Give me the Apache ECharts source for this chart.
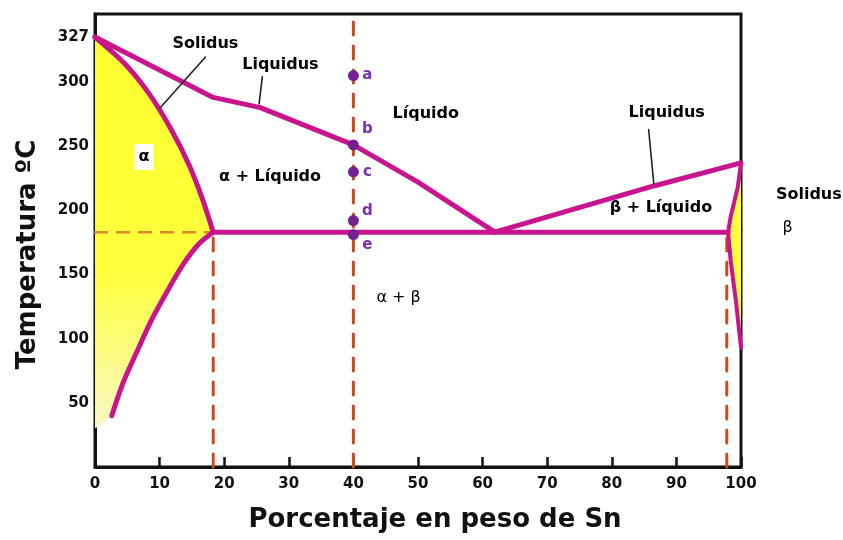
<!DOCTYPE html>
<html>
<head>
<meta charset="utf-8">
<title>Diagrama Pb-Sn</title>
<script src="https://cdn.jsdelivr.net/npm/echarts@6.0.0/dist/echarts.min.js"></script>
<style>
  html, body { margin: 0; padding: 0; background: #fff; }
  #chart { width: 843px; height: 540px; }
</style>
</head>
<body>
<div id="chart"></div>
<script>
var xTicks = [0, 10, 20, 30, 40, 50, 60, 70, 80, 90, 100];
var yTicks = [50, 100, 150, 200, 250, 300];
var meltLabel = '327';     // etiqueta del punto de fusión del Pb
var meltPlotY = 335;       // donde está dibujado en la escala del eje
var yTop = 353;

var liquidusLeft = [[0, 335], [18.3, 288], [25.6, 280], [40, 251], [50, 222], [61.9, 183]];
var liquidusRight = [[61.9, 183], [86.5, 219], [100, 237]];
var solidusAlpha = [[0, 335], [4.65, 314], [8.5, 290], [11.8, 263], [14.6, 235], [16.7, 208], [18.3, 183]];
var solvusAlpha = [[18.3, 183], [16.1, 174], [13.8, 159], [11.3, 138], [8.8, 115], [6.5, 90], [4.3, 65], [2.6, 40]];
var eutectic = [[18.3, 183], [98, 183]];
var solidusBeta = [[100, 237], [99.5, 218], [98.4, 195], [98, 183]];
var solvusBeta = [[98, 183], [98.4, 161], [99.2, 130], [100, 93]];

var guideVertical = [
    [[40, 0], [40, yTop]],
    [[18.3, 0], [18.3, 183]],
    [[97.8, 0], [97.8, 183]]
];
var guideEutectic = [[0, 183], [18.3, 183]];

var pointNames = ['a', 'b', 'c', 'd', 'e'];
var pointX = 40;
var pointT = [305, 251, 230, 192, 181];

// textos de regiones (texto, x, T, negrita)
var regionText = [
    ['Solidus', 17.1, 330, true],
    ['Liquidus', 28.7, 313, true],
    ['Líquido', 51.2, 275, true],
    ['α', 7.6, 241.6, true],
    ['α + Líquido', 27.1, 226, true],
    ['α + β', 47, 131.7, false],
    ['Liquidus', 88.5, 276, true],
    ['β + Líquido', 87.6, 202, true],
    ['Solidus', 110.5, 212, true],
    ['β', 107.2, 186.5, false]
];
var leaders = [
    [[17.1, 319.5], [10.1, 280]],
    [[25.9, 304], [25.4, 283]],
    [[85.7, 263], [86.5, 221]],
    [[100.6, 206.5], [104.3, 213.6]],
    [[100.3, 184.7], [106, 187]]
];

// --- estilo ---
var magenta = '#c8158f';
var dashRed = '#cf4a1a';
var fontFam = 'DejaVu Sans';

// offsets de las letras a..e respecto a su punto
var pointLabelOffset = { a: [14, 0], b: [14, -16], c: [14, 0], d: [14, -9], e: [14, 10] };

var chart = echarts.init(document.getElementById('chart'));

function polySeries(poly, fill) {
    return {
        type: 'custom',
        silent: true,
        z: 1,
        data: [[0, 0]],
        renderItem: function (params, api) {
            return {
                type: 'polygon',
                shape: { points: poly.map(function (p) { return api.coord(p); }) },
                style: { fill: fill, stroke: null }
            };
        }
    };
}

function lineSeries(data, color, width, type, z) {
    return {
        type: 'line',
        data: data,
        symbol: 'none',
        clip: false,
        silent: true,
        z: z,
        lineStyle: { color: color, width: width, type: type, cap: 'round', join: 'round' }
    };
}

var series = [];

// relleno amarillo de la fase alfa
var alphaPoly = solidusAlpha.concat(solvusAlpha.slice(1)).concat([[0, 30]]);
series.push(polySeries(alphaPoly, new echarts.graphic.LinearGradient(0, 0, 0, 1, [
    { offset: 0, color: '#ffff30' },
    { offset: 0.6, color: '#ffff3c' },
    { offset: 1, color: '#f8f8c4' }
])));
// fase beta
series.push(polySeries(solidusBeta.concat(solvusBeta.slice(1)), '#ffff40'));

// líneas discontinuas
guideVertical.forEach(function (seg) {
    series.push(lineSeries(seg, dashRed, 3, [13, 11], 2));
});
series.push(lineSeries(guideEutectic, '#e0862c', 2.5, [12, 10], 2));

// curvas del diagrama
series.push(lineSeries(liquidusLeft, magenta, 5, 'solid', 3));
series.push(lineSeries(liquidusRight, magenta, 5, 'solid', 3));
var sa = lineSeries(solidusAlpha, magenta, 5, 'solid', 3);
sa.smooth = 0.3;
series.push(sa);
var sv = lineSeries(solvusAlpha, magenta, 5, 'solid', 3);
sv.smooth = 0.3;
series.push(sv);
series.push(lineSeries(eutectic, magenta, 5, 'solid', 3));
series.push(lineSeries(solidusBeta, magenta, 4, 'solid', 3));
series.push(lineSeries(solvusBeta, magenta, 4, 'solid', 3));

// líneas guía de los textos
leaders.forEach(function (seg) {
    series.push(lineSeries(seg, '#222', 1.6, 'solid', 4));
});

// puntos a..e
series.push({
    type: 'scatter',
    z: 5,
    symbolSize: 11,
    itemStyle: { color: '#74208e', opacity: 1 },
    data: pointNames.map(function (n, i) {
        return {
            value: [pointX, pointT[i]],
            label: {
                show: true,
                formatter: n,
                position: 'inside',
                offset: pointLabelOffset[n],
                color: '#7a2fae',
                fontFamily: fontFam,
                fontWeight: 'bold',
                fontSize: 15
            }
        };
    })
});

// textos de las regiones
series.push({
    type: 'custom',
    z: 6,
    silent: true,
    clip: false,
    data: regionText.map(function (t) { return [t[1], t[2]]; }),
    renderItem: function (params, api) {
        var t = regionText[params.dataIndex];
        var p = api.coord([t[1], t[2]]);
        var style = {
            text: t[0],
            x: p[0],
            y: p[1],
            align: 'center',
            verticalAlign: 'middle',
            fill: '#000',
            font: (t[3] ? 'bold 16px ' : '16px ') + fontFam
        };
        if (t[0] === 'α') {
            style.backgroundColor = '#fff';
            style.padding = [5, 4, 5, 4];
        }
        return { type: 'text', style: style };
    }
});

var option = {
    animation: false,
    backgroundColor: '#fff',
    grid: {
        left: 95, right: 102, top: 14, bottom: 73,
        show: true,
        borderColor: '#111',
        borderWidth: 3,
        outerBoundsMode: 'none'
    },
    xAxis: {
        type: 'value',
        min: 0,
        max: 100,
        interval: 10,
        name: 'Porcentaje en peso de Sn',
        nameLocation: 'middle',
        nameGap: 40,
        nameTextStyle: {
            fontFamily: fontFam, fontWeight: 'bold', fontSize: 26, color: '#111',
            padding: [0, 0, 0, 34]
        },
        axisLine: { show: true, lineStyle: { color: '#111', width: 3 } },
        axisTick: { show: true, inside: true, length: 10, lineStyle: { color: '#111', width: 2.5 } },
        axisLabel: {
            margin: 10, color: '#111', fontFamily: fontFam, fontWeight: 'bold', fontSize: 15,
            formatter: function (v) { return xTicks.indexOf(v) >= 0 ? String(v) : ''; }
        },
        splitLine: { show: false }
    },
    yAxis: {
        type: 'value',
        min: 0,
        max: yTop,
        name: 'Temperatura ºC',
        nameLocation: 'middle',
        nameGap: 54,
        nameTextStyle: {
            fontFamily: fontFam, fontWeight: 'bold', fontSize: 26, color: '#111',
            padding: [0, 28, 0, 0]
        },
        axisLine: { show: true, lineStyle: { color: '#111', width: 3 } },
        axisTick: {
            show: true, inside: true, length: 16,
            customValues: yTicks,
            lineStyle: { color: '#8d9040', width: 2 }
        },
        axisLabel: {
            margin: 6, color: '#111', fontFamily: fontFam, fontWeight: 'bold', fontSize: 15,
            customValues: yTicks.concat([meltPlotY]),
            formatter: function (v) { return v === meltPlotY ? meltLabel : String(v); }
        },
        splitLine: { show: false }
    },
    series: series
};

chart.setOption(option);
</script>
</body>
</html>
